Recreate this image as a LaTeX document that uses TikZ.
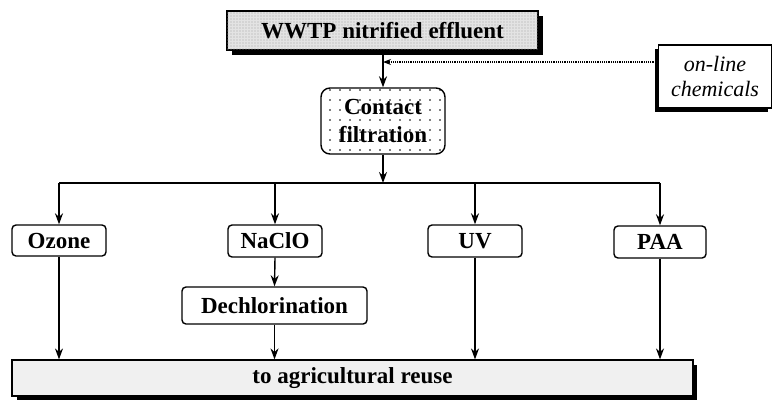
\documentclass[tikz,border=0pt]{standalone}
\usepackage{fontspec}
\setmainfont{Liberation Serif}
\usetikzlibrary{arrows.meta,patterns.meta}
\begin{document}
\begin{tikzpicture}[x=1pt,y=-1pt,
  every node/.style={font=\fontsize{23}{28}\selectfont\bfseries, inner sep=0pt, align=center},
  box/.style={draw, line width=1.4pt, rounded corners=4pt, fill=white},
  conn/.style={line width=1.4pt},
  arr/.style={conn, -{Stealth[length=11pt,width=8pt]}}
]
\useasboundingbox (0,0) rectangle (775,400);
% shadows
\fill (232,16) rectangle (543,55);
\fill (17,365) rectangle (697,400);
\fill (655,49) rectangle (768,112);
% WWTP
\node[draw, line width=1.2pt, fill=gray!22, minimum width=311pt, minimum height=39pt,
  postaction={pattern={Dots[distance=3pt,radius=0.55pt]}, pattern color=gray!70}]
  (wwtp) at (382.5,30.5) {};
\node at (wwtp.center) {WWTP nitrified effluent};
% chemicals
\node[draw, line width=1.2pt, fill=white, minimum width=113pt, minimum height=63pt,
  font=\fontsize{22}{25}\selectfont\itshape] (chem) at (715,76.5) {on-line\\chemicals};
% contact filtration
\node[draw, line width=1.4pt, rounded corners=9pt, fill=white, minimum width=124pt, minimum height=66pt,
  postaction={pattern={Dots[distance=10pt,radius=0.8pt]}, pattern color=black}] (contact) at (383,121) {};
\node at (contact.center) {Contact\\filtration};
% treatments
\node[box, minimum width=94pt, minimum height=31pt] (ozone) at (59,240.5) {Ozone};
\node[box, minimum width=94pt, minimum height=32pt] (naclo) at (275,241) {NaClO};
\node[box, minimum width=94pt, minimum height=32pt] (uv) at (475,241) {UV};
\node[box, minimum width=92pt, minimum height=32pt] (paa) at (660,242) {PAA};
\node[box, minimum width=185pt, minimum height=37pt] (dechl) at (274.5,305.5) {Dechlorination};
% bottom
\node[draw, line width=1.2pt, fill=gray!12, minimum width=681pt, minimum height=36pt] (reuse) at (352.5,378) {to agricultural reuse};
% connectors
\coordinate (split) at (383,183);
\coordinate (inj) at (383,62);
\draw[arr] (wwtp.south -| contact.north) -- (contact.north);
\draw[line width=1.2pt, densely dotted, -{Stealth[length=8pt,width=6pt]}] (chem.west |- inj) -- (inj);
\draw[arr] (contact.south) -- (split);
\draw[conn] (ozone.north |- split) -- (paa.north |- split);
\draw[arr] (ozone.north |- split) -- (ozone.north);
\draw[arr] (naclo.north |- split) -- (naclo.north);
\draw[arr] (uv.north |- split) -- (uv.north);
\draw[arr] (paa.north |- split) -- (paa.north);
\draw[arr] (naclo.south) -- (dechl.north);
\draw[arr] (ozone.south) -- (ozone.south |- reuse.north);
\draw[arr] (dechl.south) -- (dechl.south |- reuse.north);
\draw[arr] (uv.south) -- (uv.south |- reuse.north);
\draw[arr] (paa.south) -- (paa.south |- reuse.north);
\end{tikzpicture}
\end{document}
